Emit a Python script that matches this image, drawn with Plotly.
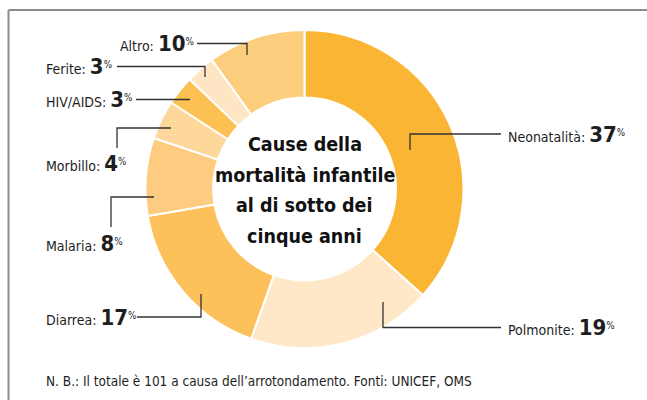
import plotly.graph_objects as go

# ---- data ----
causes = ["Neonatalità", "Polmonite", "Diarrea", "Malaria", "Morbillo", "HIV/AIDS", "Ferite", "Altro"]
percent = [37, 19, 17, 8, 4, 3, 3, 10]
colors = ["#FBB535", "#FEE8C7", "#FCC15A", "#FDCC80", "#FDD89A", "#FCC053", "#FEE6C4", "#FDCD7E"]
center_lines = ["Cause della", "mortalità infantile", "al di sotto dei", "cinque anni"]
note = "N. B.: Il totale è 101 a causa dell’arrotondamento. Fonti: UNICEF, OMS"

W, H = 647, 400
FONT = "DejaVu Sans Condensed, Liberation Sans Narrow, Arial Narrow, sans-serif"

# label layout (pixel positions): text anchor x, text middle y, leader polyline
label_layout = {
    "Neonatalità": dict(tx=506, ty=134, path=[(501, 134), (410, 134), (410, 150)]),
    "Polmonite": dict(tx=506, ty=327.5, path=[(501, 327.5), (383, 327.5), (383, 302)]),
    "Diarrea": dict(tx=44, ty=317, path=[(137, 317), (201, 317), (201, 294)]),
    "Malaria": dict(tx=44, ty=243, path=[(111, 227), (111, 197), (154, 197)]),
    "Morbillo": dict(tx=44, ty=164, path=[(117, 148), (117, 128), (171, 128)]),
    "HIV/AIDS": dict(tx=44, ty=99.5, path=[(136, 99.5), (190, 99.5)]),
    "Ferite": dict(tx=44, ty=66.5, path=[(117, 66.5), (205, 66.5), (205, 77)]),
    "Altro": dict(tx=118, ty=43.5, path=[(197, 43.5), (247, 43.5), (247, 55)]),
}

cx, cy, R = 304.5, 189, 159


def px(x):
    return x / W


def py(y):
    return 1 - y / H


fig = go.Figure(
    go.Pie(
        labels=causes,
        values=percent,
        marker=dict(colors=colors, line=dict(color="white", width=2)),
        hole=0.575,
        sort=False,
        direction="clockwise",
        rotation=0,
        textinfo="none",
        hoverinfo="label+value",
        showlegend=False,
        domain=dict(x=[px(cx - R), px(cx + R)], y=[py(cy + R), py(cy - R)]),
    )
)

shapes = []
annotations = []
for name, val in zip(causes, percent):
    L = label_layout[name]
    d = "M " + " L ".join(f"{px(x)},{py(y)}" for x, y in L["path"])
    shapes.append(dict(type="path", path=d, xref="paper", yref="paper",
                       line=dict(color="#333333", width=1.3)))
    annotations.append(dict(
        x=px(L["tx"]), y=py(L["ty"]), xref="paper", yref="paper",
        xanchor="left", yanchor="middle", showarrow=False,
        text=f"{name}: <b><span style='font-size:22px'>{val}</span></b><sup>%</sup>",
        font=dict(family=FONT, size=14, color="#1e1e1e"),
    ))

# center title lines
for i, line in enumerate(center_lines):
    annotations.append(dict(
        x=px(cx), y=py(144.5 + i * 30.7), xref="paper", yref="paper",
        xanchor="center", yanchor="middle", showarrow=False,
        text=f"<b>{line}</b>",
        font=dict(family=FONT, size=19.5, color="#111111"),
    ))

annotations.append(dict(
    x=px(44), y=py(380.5), xref="paper", yref="paper",
    xanchor="left", yanchor="middle", showarrow=False,
    text=note, font=dict(family=FONT, size=13.5, color="#1e1e1e"),
))

# frame lines
shapes.append(dict(type="line", xref="paper", yref="paper", x0=px(8.5), x1=1, y0=py(10), y1=py(10),
                   line=dict(color="#8c8c8c", width=2)))
shapes.append(dict(type="line", xref="paper", yref="paper", x0=px(8.5), x1=px(8.5), y0=py(10), y1=0,
                   line=dict(color="#8c8c8c", width=2)))

fig.update_layout(
    width=W, height=H,
    margin=dict(l=0, r=0, t=0, b=0),
    paper_bgcolor="white", plot_bgcolor="white",
    shapes=shapes, annotations=annotations,
)

fig.write_html("out.html", config={"displayModeBar": False},
               post_script="document.body.style.margin='0';document.body.style.overflow='hidden';")
